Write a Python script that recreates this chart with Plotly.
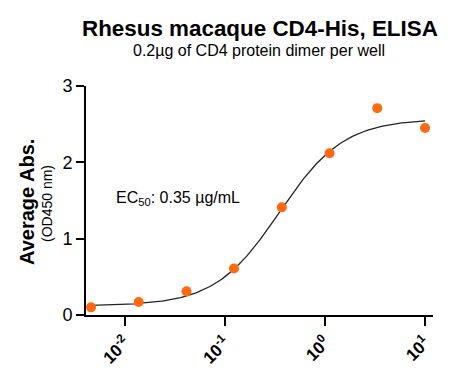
import numpy as np
import plotly.graph_objects as go

# Data (µg/mL, average OD450)
conc = [0.00457, 0.0137, 0.0412, 0.123, 0.370, 1.11, 3.33, 10.0]
absorb = [0.10, 0.17, 0.31, 0.61, 1.41, 2.12, 2.71, 2.45]

# 4PL fit parameters
fit_bottom = 0.12
fit_top = 2.57
fit_ec50 = 0.35
fit_hill = 1.35

xtick_vals = [0.01, 0.1, 1, 10]
xtick_text = ["<b>10<sup>-2</sup></b>", "<b>10<sup>-1</sup></b>", "<b>10<sup>0</sup></b>", "<b>10<sup>1</sup></b>"]
ytick_vals = [0, 1, 2, 3]

xs = np.logspace(np.log10(conc[0]), np.log10(conc[-1]), 300)
ys = fit_bottom + (fit_top - fit_bottom) / (1 + (fit_ec50 / xs) ** fit_hill)

FONT = "Arial, Liberation Sans, sans-serif"

# page offset of the figure inside the html body
OFF = 8
W, H = 455, 371
l, t = 86 - OFF, 86 - OFF
r = W - (433 - OFF)
b = H - (315 - OFF)
pw, ph = W - l - r, H - t - b

def px(xpix):
    return (xpix - OFF - l) / pw

def py(ypix):
    return (H - b - (ypix - OFF)) / ph

fig = go.Figure()
fig.add_trace(go.Scatter(x=xs, y=ys, mode="lines",
                         line=dict(color="#222222", width=1.3), hoverinfo="skip"))
fig.add_trace(go.Scatter(x=conc, y=absorb, mode="markers",
                         marker=dict(color="#FF6A10", size=10)))

fig.update_layout(
    template="none",
    width=W, height=H,
    margin=dict(l=l, r=r, t=t, b=b, autoexpand=False),
    paper_bgcolor="white", plot_bgcolor="white",
    showlegend=False,
    font=dict(family=FONT, color="black"),
    xaxis=dict(type="log", range=[-2.39, 1.08], tickvals=xtick_vals, ticktext=xtick_text,
               tickangle=-45, showline=True, linecolor="black", linewidth=2,
               ticks="outside", ticklen=9, tickwidth=2, tickcolor="black",
               showgrid=False, zeroline=False, automargin=False,
               tickfont=dict(size=17, family=FONT)),
    yaxis=dict(range=[0, 3], tickvals=ytick_vals, showline=True, linecolor="black",
               linewidth=2, ticks="outside", ticklen=8, tickwidth=2, tickcolor="black",
               showgrid=False, zeroline=False, automargin=False,
               tickfont=dict(size=18, family=FONT), tickprefix="<b>", ticksuffix="</b>"),
    annotations=[
        dict(text="<b>Rhesus macaque CD4-His, ELISA</b>", xref="paper", yref="paper",
             x=px(260), y=py(29), xanchor="center", yanchor="middle", showarrow=False,
             font=dict(size=22.4)),
        dict(text="0.2µg of CD4 protein dimer per well", xref="paper", yref="paper",
             x=px(259), y=py(50), xanchor="center", yanchor="middle", showarrow=False,
             font=dict(size=16)),
        dict(text="<b>Average Abs.</b>", xref="paper", yref="paper",
             x=px(27), y=py(202), xanchor="center", yanchor="middle", textangle=-90,
             showarrow=False, font=dict(size=20)),
        dict(text="(OD450 nm)", xref="paper", yref="paper",
             x=px(47), y=py(204), xanchor="center", yanchor="middle", textangle=-90,
             showarrow=False, font=dict(size=14)),
        dict(text="EC<sub>50</sub>: 0.35 µg/mL", xref="paper", yref="paper",
             x=px(114), y=py(198), xanchor="left", yanchor="middle", showarrow=False,
             font=dict(size=16)),
    ],
)

fig.write_html("out.html")
